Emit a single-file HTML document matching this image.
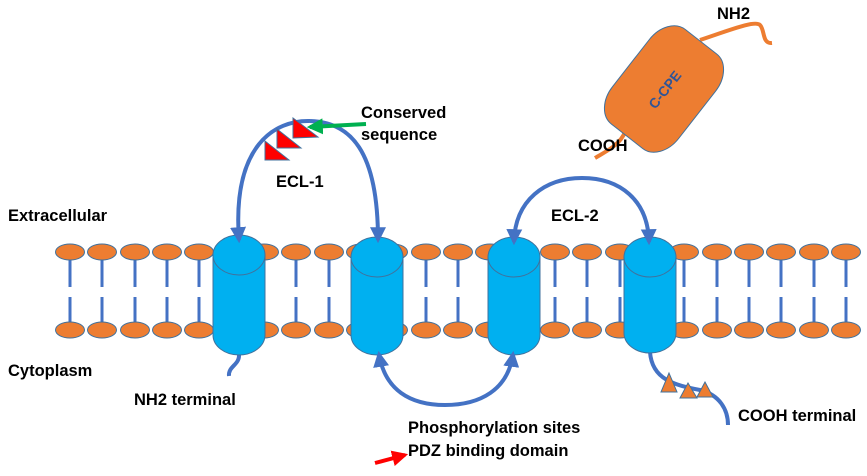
<!DOCTYPE html>
<html><head><style>body{margin:0;background:#fff}svg text{font-family:"Liberation Sans",sans-serif;font-weight:bold}</style></head>
<body>
<svg width="867" height="471" viewBox="0 0 867 471" xmlns="http://www.w3.org/2000/svg">
<defs>
<marker id="ah" viewBox="0 0 10 10" refX="8" refY="5" markerWidth="4" markerHeight="4" orient="auto"><path d="M0,0 L10,5 L0,10 z" fill="#4472C4"/></marker>
<marker id="ahg" viewBox="0 0 10 10" refX="8" refY="5" markerWidth="4" markerHeight="4" orient="auto"><path d="M0,0 L10,5 L0,10 z" fill="#00B050"/></marker>
<marker id="ahr" viewBox="0 0 10 10" refX="8" refY="5" markerWidth="4" markerHeight="4" orient="auto"><path d="M0,0 L10,5 L0,10 z" fill="#FF0000"/></marker>
</defs>
<g stroke="#4472C4" stroke-width="3">
<path d="M70,260V287M70,297V322M102,260V287M102,297V322M135,260V287M135,297V322M167,260V287M167,297V322M199,260V287M199,297V322M232,260V287M232,297V322M264,260V287M264,297V322M296,260V287M296,297V322M329,260V287M329,297V322M361,260V287M361,297V322M393,260V287M393,297V322M426,260V287M426,297V322M458,260V287M458,297V322M490,260V287M490,297V322M523,260V287M523,297V322M555,260V287M555,297V322M587,260V287M587,297V322M620,260V287M620,297V322M652,260V287M652,297V322M684,260V287M684,297V322M717,260V287M717,297V322M749,260V287M749,297V322M781,260V287M781,297V322M814,260V287M814,297V322M846,260V287M846,297V322"/>
</g>
<g fill="#ED7D31" stroke="#41719C" stroke-width="1">
<ellipse cx="70" cy="252" rx="14.5" ry="8"/><ellipse cx="102" cy="252" rx="14.5" ry="8"/><ellipse cx="135" cy="252" rx="14.5" ry="8"/><ellipse cx="167" cy="252" rx="14.5" ry="8"/><ellipse cx="199" cy="252" rx="14.5" ry="8"/><ellipse cx="232" cy="252" rx="14.5" ry="8"/><ellipse cx="264" cy="252" rx="14.5" ry="8"/><ellipse cx="296" cy="252" rx="14.5" ry="8"/><ellipse cx="329" cy="252" rx="14.5" ry="8"/><ellipse cx="361" cy="252" rx="14.5" ry="8"/><ellipse cx="393" cy="252" rx="14.5" ry="8"/><ellipse cx="426" cy="252" rx="14.5" ry="8"/><ellipse cx="458" cy="252" rx="14.5" ry="8"/><ellipse cx="490" cy="252" rx="14.5" ry="8"/><ellipse cx="523" cy="252" rx="14.5" ry="8"/><ellipse cx="555" cy="252" rx="14.5" ry="8"/><ellipse cx="587" cy="252" rx="14.5" ry="8"/><ellipse cx="620" cy="252" rx="14.5" ry="8"/><ellipse cx="652" cy="252" rx="14.5" ry="8"/><ellipse cx="684" cy="252" rx="14.5" ry="8"/><ellipse cx="717" cy="252" rx="14.5" ry="8"/><ellipse cx="749" cy="252" rx="14.5" ry="8"/><ellipse cx="781" cy="252" rx="14.5" ry="8"/><ellipse cx="814" cy="252" rx="14.5" ry="8"/><ellipse cx="846" cy="252" rx="14.5" ry="8"/>
<ellipse cx="70" cy="330" rx="14.5" ry="8"/><ellipse cx="102" cy="330" rx="14.5" ry="8"/><ellipse cx="135" cy="330" rx="14.5" ry="8"/><ellipse cx="167" cy="330" rx="14.5" ry="8"/><ellipse cx="199" cy="330" rx="14.5" ry="8"/><ellipse cx="232" cy="330" rx="14.5" ry="8"/><ellipse cx="264" cy="330" rx="14.5" ry="8"/><ellipse cx="296" cy="330" rx="14.5" ry="8"/><ellipse cx="329" cy="330" rx="14.5" ry="8"/><ellipse cx="361" cy="330" rx="14.5" ry="8"/><ellipse cx="393" cy="330" rx="14.5" ry="8"/><ellipse cx="426" cy="330" rx="14.5" ry="8"/><ellipse cx="458" cy="330" rx="14.5" ry="8"/><ellipse cx="490" cy="330" rx="14.5" ry="8"/><ellipse cx="523" cy="330" rx="14.5" ry="8"/><ellipse cx="555" cy="330" rx="14.5" ry="8"/><ellipse cx="587" cy="330" rx="14.5" ry="8"/><ellipse cx="620" cy="330" rx="14.5" ry="8"/><ellipse cx="652" cy="330" rx="14.5" ry="8"/><ellipse cx="684" cy="330" rx="14.5" ry="8"/><ellipse cx="717" cy="330" rx="14.5" ry="8"/><ellipse cx="749" cy="330" rx="14.5" ry="8"/><ellipse cx="781" cy="330" rx="14.5" ry="8"/><ellipse cx="814" cy="330" rx="14.5" ry="8"/><ellipse cx="846" cy="330" rx="14.5" ry="8"/>
</g>
<g fill="none" stroke="#4472C4" stroke-width="4">
<path d="M239,354 C240,365 228,366 229,376"/>
<path d="M650,352 C652,380 675,385 700,390 C720,395 728,410 728,425"/>
</g>
<g fill="#00B0F0" stroke="#41719C" stroke-width="1">
<path d="M213,255 V335 A26,20 0 0 0 265,335 V255 Z"/><ellipse cx="239" cy="255" rx="26" ry="20"/>
<path d="M351,257 V335 A26,20 0 0 0 403,335 V257 Z"/><ellipse cx="377" cy="257" rx="26" ry="20"/>
<path d="M488,257 V335 A26,20 0 0 0 540,335 V257 Z"/><ellipse cx="514" cy="257" rx="26" ry="20"/>
<path d="M624,257 V333 A26,20 0 0 0 676,333 V257 Z"/><ellipse cx="650" cy="257" rx="26" ry="20"/>
</g>
<g fill="none" stroke="#4472C4" stroke-width="4">
<path d="M310,121 C350,122 378,150 378,240" marker-end="url(#ah)"/>
<path d="M310,121 C275,120 232,145 239,240" marker-end="url(#ah)"/>
<path d="M582,178 C545,178 515,200 514,242" marker-end="url(#ah)"/>
<path d="M582,178 C620,178 648,200 649,242" marker-end="url(#ah)"/>
<path d="M445,405 C410,405 385,390 379,354" marker-end="url(#ah)"/>
<path d="M445,405 C480,405 508,390 513,354" marker-end="url(#ah)"/>
</g>
<g fill="#FF0000" stroke="#41719C" stroke-width="1">
<path d="M265,141 L265,160 L289,160 Z"/>
<path d="M277,129 L277,148 L301,148 Z"/>
<path d="M293,118 L293,138 L318,137 Z"/>
</g>
<path d="M366,124 L310,127" stroke="#00B050" stroke-width="4" marker-end="url(#ahg)"/>
<path d="M375,463 L405,455" stroke="#FF0000" stroke-width="4" marker-end="url(#ahr)"/>
<g fill="#ED7D31" stroke="#41719C" stroke-width="1">
<path d="M669,373 L661,392 L677,392 Z"/>
<path d="M688,383 L680,398 L697,398 Z"/>
<path d="M705,382 L697,397 L713,397 Z"/>
</g>
<g fill="none" stroke="#ED7D31" stroke-width="4">
<path d="M700,40 C730,30 755,20 760,25 C765,30 762,44 772,43"/>
<path d="M625,132 C620,145 605,152 595,158"/>
</g>
<g transform="translate(664,89) rotate(-52)">
<rect x="-60" y="-42" width="120" height="84" rx="30" ry="22" fill="#ED7D31" stroke="#41719C" stroke-width="1"/>
<text x="0" y="6" font-size="14" fill="#2F5597" text-anchor="middle">C-CPE</text>
</g>
<g font-size="16.5" fill="#000">
<text x="361" y="118">Conserved</text>
<text x="361" y="140">sequence</text>
<text x="276" y="187">ECL-1</text>
<text x="551" y="221">ECL-2</text>
<text x="8" y="221">Extracellular</text>
<text x="8" y="376">Cytoplasm</text>
<text x="134" y="405">NH2 terminal</text>
<text x="408" y="433">Phosphorylation sites</text>
<text x="408" y="456">PDZ binding domain</text>
<text x="738" y="421">COOH terminal</text>
<text x="717" y="19">NH2</text>
<text x="578" y="151">COOH</text>
</g>
</svg>
</body></html>
